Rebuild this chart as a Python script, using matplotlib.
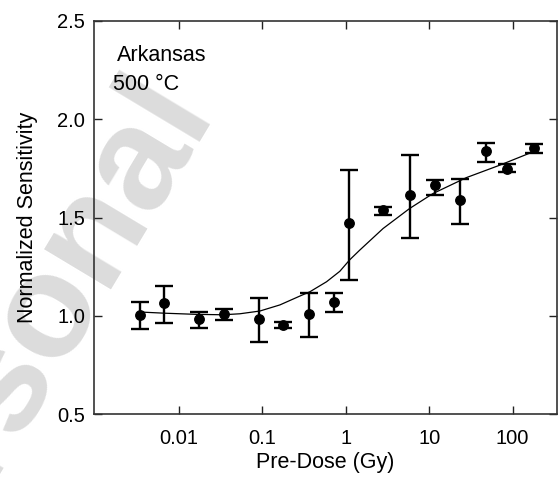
import numpy as np
import matplotlib
matplotlib.use('Agg')
import matplotlib.pyplot as plt

# measured points (Pre-dose in Gy, normalized sensitivity)
dose = [0.0034, 0.0067, 0.0174, 0.0346, 0.0917, 0.176, 0.364, 0.724,
        1.10, 2.8, 5.89, 11.7, 23.4, 47.9, 86.5, 180.0]
sens = [1.003, 1.063, 0.981, 1.007, 0.983, 0.952, 1.008, 1.071,
        1.470, 1.536, 1.612, 1.663, 1.588, 1.837, 1.749, 1.854]
err_hi = [1.068, 1.152, 1.017, 1.034, 1.091, 0.966, 1.114, 1.114,
          1.740, 1.551, 1.817, 1.693, 1.698, 1.879, 1.770, 1.876]
err_lo = [0.931, 0.961, 0.939, 0.976, 0.868, 0.940, 0.892, 1.019,
          1.183, 1.513, 1.396, 1.615, 1.469, 1.780, 1.732, 1.828]

# fitted curve
fit_dose = [0.00341, 0.0067, 0.0163, 0.034, 0.0537, 0.0933, 0.162, 0.281, 0.371,
            0.588, 0.847, 1.117, 1.47, 2.80, 5.83, 11.1, 27.9, 69.8, 175.0]
fit_sens = [1.019, 1.013, 1.007, 1.005, 1.010, 1.024, 1.055, 1.100, 1.122,
            1.173, 1.226, 1.285, 1.334, 1.444, 1.546, 1.622, 1.703, 1.766, 1.834]

xticks = [0.01, 0.1, 1, 10, 100]
xticklabels = ['0.01', '0.1', '1', '10', '100']
yticks = [0.5, 1.0, 1.5, 2.0, 2.5]

plt.rcParams['font.family'] = ['Liberation Sans', 'DejaVu Sans']
FS_TICK = 14.5
FS_LAB = 15.5

W, H = 558, 478
fig = plt.figure(figsize=(W / 100, H / 100), dpi=100)
ax = fig.add_axes([94 / W, 1 - 414 / H, 463 / W, 393 / H])
ax.set_facecolor('none')

# watermark behind everything
fig.text(212 / W, 1 - 106 / H, 'Personal', rotation=59, rotation_mode='anchor',
         ha='right', va='baseline', fontsize=106, fontweight='bold',
         color='#dcdcdc', zorder=-1)

sens = np.array(sens)
yerr = [sens - np.array(err_lo), np.array(err_hi) - sens]
ax.plot(fit_dose, fit_sens, color='black', lw=0.9, zorder=2)
ax.errorbar(dose, sens, yerr=yerr, fmt='o', color='black', ms=6.8,
            elinewidth=1.7, capsize=6.5, capthick=1.7, zorder=3)

ax.set_xscale('log')
ax.set_xlim(0.00096, 340)
ax.set_ylim(0.5, 2.5)
ax.set_xticks(xticks)
ax.set_xticklabels(xticklabels)
ax.minorticks_off()
ax.set_yticks(yticks)
ax.set_yticklabels(['%.1f' % v for v in yticks])

ax.tick_params(direction='in', length=6, width=1, top=True, right=True,
               labelsize=FS_TICK, colors='#222222', labelcolor='black')
ax.tick_params(axis='x', pad=11)
ax.tick_params(axis='y', pad=6.5)
for s in ax.spines.values():
    s.set_linewidth(1.2)
    s.set_color('#333333')

ax.set_xlabel('Pre-Dose (Gy)', fontsize=FS_LAB, labelpad=3)
ax.set_ylabel('Normalized Sensitivity', fontsize=FS_LAB, labelpad=14)

ax.text(117 / 100, (H - 61) / 100, 'Arkansas', transform=fig.dpi_scale_trans, fontsize=FS_LAB)
ax.text(113 / 100, (H - 90) / 100, '500 \u00b0C', transform=fig.dpi_scale_trans, fontsize=FS_LAB)

plt.savefig('out.png', dpi=100)
